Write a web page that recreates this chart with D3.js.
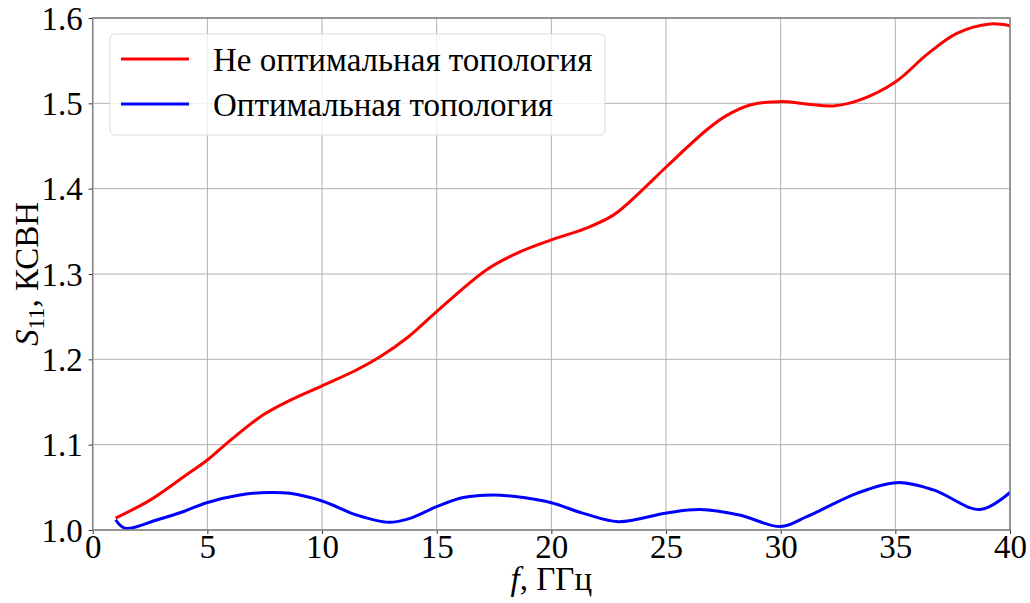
<!DOCTYPE html>
<html><head><meta charset="utf-8">
<script src="https://cdn.jsdelivr.net/npm/d3@7/dist/d3.min.js"></script>
<style>body{margin:0;background:#fff}svg{display:block}
.t{font-family:"Liberation Serif";font-size:33px;fill:#000}
</style>
</head><body>
<svg id="c" width="1030" height="603"></svg>
<script>
const xTicks = [0,5,10,15,20,25,30,35,40];
const yTicks = [1.0,1.1,1.2,1.3,1.4,1.5,1.6];
const seriesNames = ["Не оптимальная топология","Оптимальная топология"];
const seriesColors = ["#ff0000","#0000ff"];
const redF = [1,2.5,4,5,6,7.44,8.6,10,11.5,12.53,13.7,15,17.18,18.63,20,21.5,22.7,23.87,25.03,26.78,27.6,28.67,29.97,31.2,32.3,33.46,35,36.37,37.68,39.13,40];
const redV = [1.014,1.035,1.063,1.082,1.105,1.135,1.152,1.169,1.1875,1.203,1.225,1.256,1.305,1.326,1.340,1.3535,1.369,1.396,1.426,1.469,1.485,1.498,1.502,1.499,1.497,1.504,1.525,1.557,1.582,1.593,1.591];
const blueF = [1,1.41,2.79,4,4.97,6.42,7.66,8.6,10,11.5,12.9,13.84,15,16.16,17.47,18.78,20,21.4,22.92,25.03,26.48,28.2,30,31.14,33.32,35.06,36.66,38.7,40];
const blueV = [1.012,1.002,1.0117,1.022,1.032,1.041,1.044,1.043,1.034,1.0176,1.009,1.0137,1.0273,1.038,1.041,1.038,1.032,1.0195,1.0098,1.020,1.024,1.0176,1.004,1.0156,1.043,1.0555,1.047,1.024,1.044];

const svg = d3.select("#c");
const L=92.7, R=1010, T=18, B=530;
const x = d3.scaleLinear().domain([0,40]).range([L,R]);
const y = d3.scaleLinear().domain([1.0,1.6]).range([B,T]);

// grid
const g = svg.append("g");
g.selectAll(".gx").data(xTicks).enter().append("line")
 .attr("x1",d=>x(d)).attr("x2",d=>x(d)).attr("y1",T).attr("y2",B)
 .attr("stroke","#b0b0b0").attr("stroke-width",1);
g.selectAll(".gy").data(yTicks).enter().append("line")
 .attr("y1",d=>y(d)).attr("y2",d=>y(d)).attr("x1",L).attr("x2",R)
 .attr("stroke","#b0b0b0").attr("stroke-width",1);

// lines
const line = d3.line().x(d=>x(d[0])).y(d=>y(d[1])).curve(d3.curveCatmullRom.alpha(0.5));
svg.append("clipPath").attr("id","cp").append("rect").attr("x",L).attr("y",T-2).attr("width",R-L).attr("height",B-T+2);
const sets = [d3.zip(redF,redV), d3.zip(blueF,blueV)];
sets.forEach((s,i)=>{
  svg.append("path").datum(s).attr("d",line).attr("fill","none")
   .attr("stroke",seriesColors[i]).attr("stroke-width",3).attr("stroke-linejoin","round")
   .attr("clip-path","url(#cp)");
});

// axes
const xa = svg.append("g").attr("transform",`translate(0,${B})`)
 .call(d3.axisBottom(x).tickValues(xTicks).tickSize(4).tickPadding(1).tickFormat(d3.format("d")));
const ya = svg.append("g").attr("transform",`translate(${L},0)`)
 .call(d3.axisLeft(y).tickValues(yTicks).tickSize(4).tickPadding(6).tickFormat(d3.format(".1f")));
[xa,ya].forEach(a=>{
  a.attr("font-family",null).attr("font-size",null);
  a.select(".domain").remove();
  a.selectAll("line").attr("stroke","#333").attr("stroke-width",1);
  a.selectAll("text").attr("class","t").attr("fill",null);
});
ya.selectAll("text").attr("dy","0.34em");
// spines
svg.append("rect").attr("x",L).attr("y",T).attr("width",R-L).attr("height",B-T)
 .attr("fill","none").attr("stroke","#808080").attr("stroke-width",1.5);

// legend
const lg = svg.append("g");
lg.append("rect").attr("x",110).attr("y",34).attr("width",495).attr("height",101).attr("rx",5)
 .attr("fill","#fff").attr("fill-opacity",0.8).attr("stroke","#d9d9d9").attr("stroke-width",1);
seriesNames.forEach((n,i)=>{
  const yy = 59 + i*45;
  lg.append("line").attr("x1",121).attr("x2",189).attr("y1",yy).attr("y2",yy)
   .attr("stroke",seriesColors[i]).attr("stroke-width",3);
  lg.append("text").attr("class","t").attr("x",213).attr("y",yy).attr("dy","0.35em").text(n);
});

// axis labels
svg.append("text").attr("class","t").attr("x",(L+R)/2).attr("y",590).attr("text-anchor","middle")
 .html('<tspan font-style="italic">f</tspan>, ГГц');
svg.append("text").attr("class","t").attr("transform","translate(38,274) rotate(-90)").attr("text-anchor","middle")
 .html('<tspan font-style="italic">S</tspan><tspan font-size="23" dy="6">11</tspan><tspan dy="-6">, КСВН</tspan>');
</script>
</body></html>
